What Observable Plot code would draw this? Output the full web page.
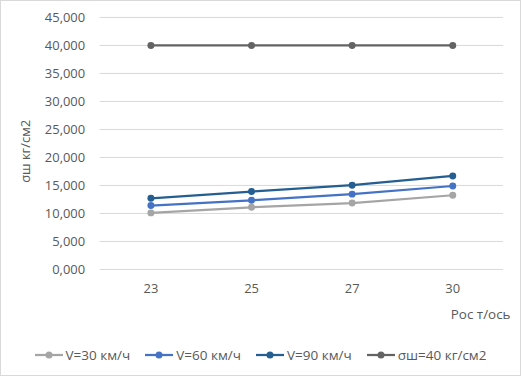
<!DOCTYPE html>
<html><head><meta charset="utf-8">
<script src="https://cdn.jsdelivr.net/npm/d3@7"></script>
<script src="https://cdn.jsdelivr.net/npm/@observablehq/plot@0.6"></script>
<style>
html,body{margin:0;padding:0;background:#fff;}
#chart{width:521px;height:376px;box-sizing:border-box;border:1px solid #d9d9d9;position:relative;overflow:hidden;font-family:"Open Sans",sans-serif;}
#chart > svg{position:absolute;left:-1px;top:-1px;}
#legend{position:absolute;left:0;right:0;top:345px;display:flex;justify-content:center;gap:15px;font-size:13.5px;color:#595959;line-height:18px;}
.item{display:flex;align-items:center;gap:3px;}
.item svg{display:block;}
</style></head>
<body><div id="chart"></div>
<script>
const categories = ["23","25","27","30"];
const seriesNames = ["V=30 км/ч","V=60 км/ч","V=90 км/ч","σш=40 кг/см2"];
const v30 = [10.1, 11.1, 11.85, 13.25];
const v60 = [11.4, 12.35, 13.45, 14.9];
const v90 = [12.7, 13.9, 15.05, 16.7];
const limit = [40, 40, 40, 40];
const colors = ["#A5A5A5","#4472C4","#255E91","#636363"];
const yTicks = [0,5,10,15,20,25,30,35,40,45];

const allSeries = [v30, v60, v90, limit];
const data = [];
allSeries.forEach((vals, si) => vals.forEach((v, i) => data.push({s: seriesNames[si], x: categories[i], y: v})));

const fmt = d => d.toFixed(3).replace(".", ",");

const plot = Plot.plot({
  width: 521, height: 335,
  marginLeft: 100, marginRight: 16, marginTop: 17, marginBottom: 65,
  style: {fontFamily: "'Open Sans', sans-serif", fontSize: "13px", color: "#595959", background: "transparent"},
  x: {type: "point", domain: categories, padding: 0.5},
  y: {domain: [0, 45]},
  color: {domain: seriesNames, range: colors},
  marks: [
    Plot.gridY(yTicks, {stroke: "#d9d9d9", strokeOpacity: 1, strokeWidth: 1}),
    Plot.axisY(yTicks, {tickSize: 0, tickPadding: 15, tickFormat: fmt, label: "σш кг/см2", labelArrow: "none", labelAnchor: "center", labelOffset: 80, fill: "#595959"}),
    Plot.axisX({tickSize: 0, tickPadding: 14, label: "Рос т/ось", labelArrow: "none", labelAnchor: "right", labelOffset: 50, fill: "#595959"}),
    Plot.line(data, {x: "x", y: "y", z: "s", stroke: "s", strokeWidth: 2.25}),
    Plot.dot(data, {x: "x", y: "y", fill: "s", r: 3.5})
  ]
});
const chart = document.getElementById("chart");
chart.appendChild(plot);

// nudge axis labels to match reference placement (wrap to keep Plot's own transforms)
function nudge(sel, dx, dy) {
  const g = plot.querySelector(sel);
  if (!g) return;
  const w = document.createElementNS("http://www.w3.org/2000/svg", "g");
  w.setAttribute("transform", `translate(${dx},${dy})`);
  g.parentNode.insertBefore(w, g);
  w.appendChild(g);
}
const xlText = plot.querySelector('[aria-label="x-axis label"]');
if (xlText) xlText.setAttribute("font-size", "13.5");
nudge('[aria-label="x-axis label"]', -6, 0);
nudge('[aria-label="y-axis label"]', 0, 8);

const legend = document.createElement("div");
legend.id = "legend";
seriesNames.forEach((name, i) => {
  const it = document.createElement("div");
  it.className = "item";
  it.innerHTML = `<svg width="28" height="10"><line x1="0" y1="5" x2="28" y2="5" stroke="${colors[i]}" stroke-width="2.25"/><circle cx="14" cy="5" r="3.5" fill="${colors[i]}"/></svg><span>${name}</span>`;
  legend.appendChild(it);
});
chart.appendChild(legend);
</script></body></html>
